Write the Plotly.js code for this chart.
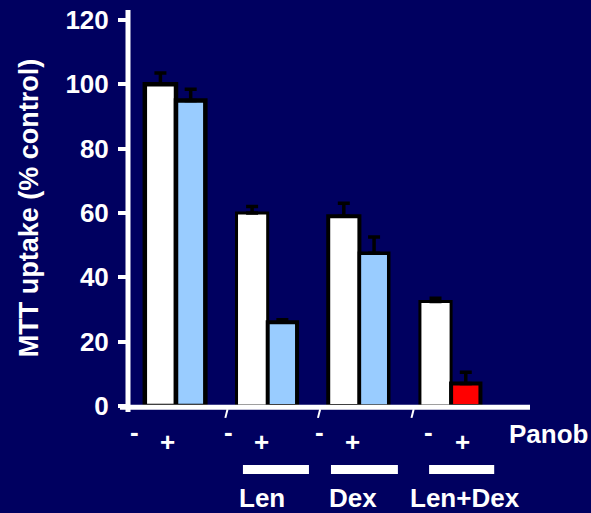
<!DOCTYPE html>
<html>
<head>
<meta charset="utf-8">
<script src="https://cdn.plot.ly/plotly-3.0.1.min.js"></script>
<style>
  html, body { margin: 0; padding: 0; background: #000060; }
  #chart { width: 591px; height: 513px; }
</style>
</head>
<body>
<div id="chart"></div>
<script>
// MTT uptake (% of control) with and without panobinostat
const groups = [0, 1, 2, 3];                       // untreated, Len, Dex, Len+Dex
const withoutPanob = [100, 60, 59, 32.5];
const withoutPanobErr = [3.5, 2, 4, 1];
const withPanob = [95, 26, 47.5, 7];
const withPanobErr = [3.5, 0.8, 5, 3.5];
const withPanobColors = ['#99ccff', '#99ccff', '#99ccff', '#ff0000'];
const minusLabel = '-';
const plusLabel = '+';
const drugLabels = ['Len', 'Dex', 'Len+Dex'];
const panobLabel = 'Panob';
const yTicks = [0, 20, 40, 60, 80, 100, 120];
const yTitle = 'MTT uptake (% control)';

const FONT = { family: 'Liberation Sans, Arial, sans-serif', size: 26, color: '#ffffff', weight: 'bold' };
const BG = '#000060';

const traces = [
  {
    type: 'bar',
    x: groups,
    y: withoutPanob,
    width: 0.34,
    offset: -0.34,
    marker: { color: '#ffffff', line: { color: '#000000', width: [4.5, 3, 4, 3] } },
    error_y: {
      type: 'data', symmetric: false,
      array: withoutPanobErr, arrayminus: withoutPanobErr.map(() => 0),
      color: '#000000', thickness: 3.5, width: 6
    },
    hoverinfo: 'skip'
  },
  {
    type: 'bar',
    x: groups,
    y: withPanob,
    width: 0.32,
    offset: 0,
    marker: { color: withPanobColors, line: { color: '#000000', width: [4.5, 4, 3.5, 4] } },
    error_y: {
      type: 'data', symmetric: false,
      array: withPanobErr, arrayminus: withPanobErr.map(() => 0),
      color: '#000000', thickness: 3.5, width: 6
    },
    hoverinfo: 'skip'
  }
];

// label placement under the axis (x offsets relative to each group)
const minusShift = [-0.45, -0.43, -0.44, -0.25];
const plusShift = [-0.09, -0.07, -0.08, 0.12];
const drugBars = [[0.73, 1.45], [1.69, 2.42], [2.76, 3.47]];
const drugLabelX = [0.94, 1.93, 3.15];
const dividerAt = [0.55, 1.56, 2.58];

const annotations = [];
groups.forEach((g, i) => {
  annotations.push({ xref: 'x', yref: 'paper', x: g + minusShift[i], y: -0.066, text: minusLabel,
    showarrow: false, font: FONT, xanchor: 'center', yanchor: 'middle' });
  annotations.push({ xref: 'x', yref: 'paper', x: g + plusShift[i], y: -0.090, text: plusLabel,
    showarrow: false, font: FONT, xanchor: 'center', yanchor: 'middle' });
});
drugLabels.forEach((t, i) => {
  annotations.push({ xref: 'x', yref: 'paper', x: drugLabelX[i], y: -0.233, text: t,
    showarrow: false, font: FONT, xanchor: 'center', yanchor: 'middle' });
});
annotations.push({ xref: 'paper', yref: 'paper', x: 0.943, y: -0.071, text: panobLabel,
  showarrow: false, font: FONT, xanchor: 'left', yanchor: 'middle' });

const shapes = [
  // axis lines
  { type: 'line', xref: 'paper', yref: 'paper', x0: 0, x1: 0, y0: -0.015, y1: 1,
    line: { color: '#ffffff', width: 5 } },
  { type: 'line', xref: 'paper', yref: 'paper', x0: -0.02, x1: 1, y0: -0.003, y1: -0.003,
    line: { color: '#ffffff', width: 5 } }
];
dividerAt.forEach(d => {
  shapes.push({ type: 'line', xref: 'x', yref: 'paper', x0: d + 0.012, x1: d - 0.012,
    y0: -0.008, y1: -0.030, line: { color: '#ffffff', width: 2 } });
});
drugBars.forEach(b => {
  shapes.push({ type: 'rect', xref: 'x', yref: 'paper', x0: b[0], x1: b[1],
    y0: -0.149, y1: -0.172, fillcolor: '#ffffff', line: { width: 0 } });
});

const layout = {
  width: 591,
  height: 513,
  paper_bgcolor: BG,
  plot_bgcolor: BG,
  margin: { l: 128, r: 61, t: 10, b: 107, pad: 0 },
  showlegend: false,
  barmode: 'overlay',
  xaxis: {
    range: [-0.5234, 3.8604],
    showgrid: false, zeroline: false, showline: false,
    showticklabels: false, ticks: '', fixedrange: true
  },
  yaxis: {
    range: [0, 123.1],
    tickvals: yTicks,
    ticktext: yTicks.map(String),
    ticks: 'outside', ticklen: 9, tickwidth: 4, tickcolor: '#ffffff',
    ticklabelstandoff: 4,
    tickfont: FONT,
    showgrid: false, zeroline: false, showline: false,
    title: { text: yTitle, font: Object.assign({}, FONT, { size: 27 }), standoff: 18 },
    fixedrange: true
  },
  annotations: annotations,
  shapes: shapes
};

Plotly.newPlot('chart', traces, layout, { displayModeBar: false, staticPlot: true });
</script>
</body>
</html>
